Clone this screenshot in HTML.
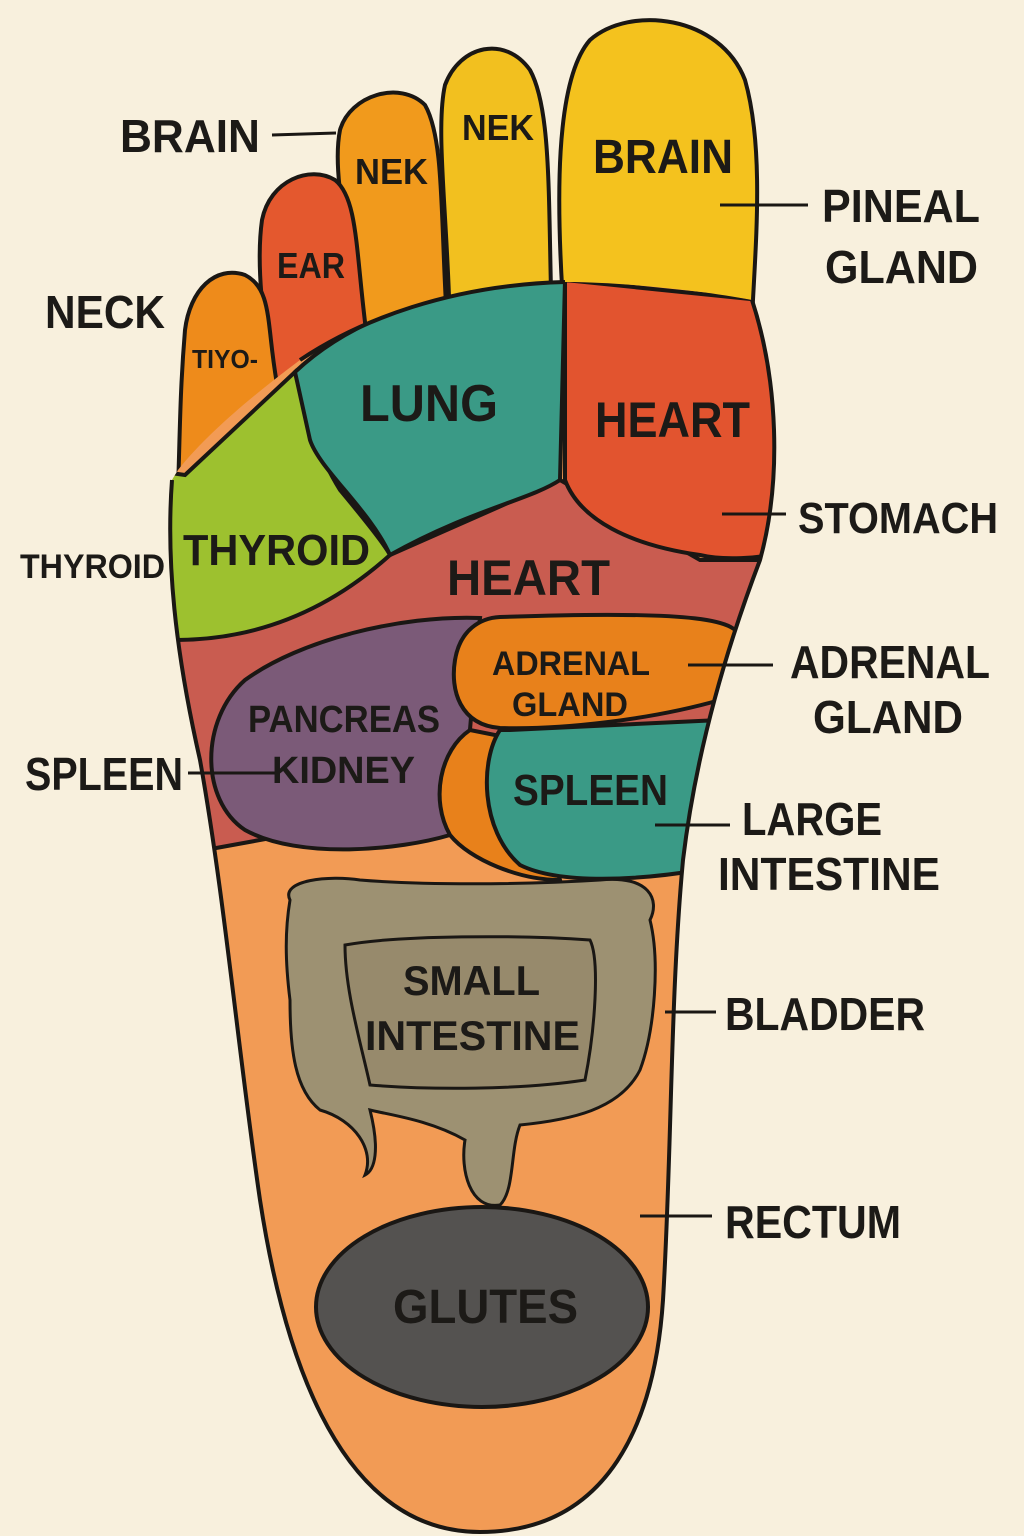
<!DOCTYPE html>
<html><head><meta charset="utf-8"><style>
html,body{margin:0;padding:0;background:#f8f0dd}
svg{display:block}
text{font-family:"Liberation Sans",sans-serif;font-weight:bold;fill:#1c1a17}
</style></head><body>
<svg width="1024" height="1536" viewBox="0 0 1024 1536" xmlns="http://www.w3.org/2000/svg">
<defs>
<clipPath id="foot"><path d="M172,480 C166,560 175,650 200,760 C225,900 238,1050 260,1200 C280,1330 330,1532 480,1532 C610,1532 655,1420 663,1300 C672,1150 670,1000 683,860 C695,760 722,660 760,560 C782,480 778,380 752,300 C700,290 620,282 565,282 C450,285 360,320 300,360 C260,390 210,430 178,470 Z"/></clipPath>
</defs>
<rect width="1024" height="1536" fill="#f8f0dd"/>
<g stroke="#1a1714" stroke-width="4">
<path d="M565,330 C555,200 555,80 590,40 C630,5 720,15 745,80 C765,150 755,250 752,320 Z" fill="#f4c21e"/>
<path d="M552,330 C548,200 552,110 530,70 C505,35 460,45 445,85 C435,130 448,220 450,330 Z" fill="#f2c01f"/>
<path d="M448,340 C440,220 445,140 425,105 C400,80 350,95 340,130 C330,180 355,260 365,350 Z" fill="#f19a1c"/>
<path d="M370,360 C355,260 360,200 335,180 C310,165 270,180 262,220 C255,270 265,330 275,400 Z" fill="#e4582e"/>
<path d="M280,400 C265,330 275,290 245,275 C215,265 190,290 185,330 C180,390 180,430 178,490 L230,440 Z" fill="#ee8b1b"/>
</g>
<g clip-path="url(#foot)" stroke="#1a1714" stroke-width="4">
<rect x="150" y="270" width="650" height="1280" fill="#f29b55" stroke="none"/>
<path d="M150,640 L390,555 L560,480 L700,560 L780,560 L780,780 L700,790 L480,800 L150,860 Z" fill="#c95c50"/>
<path d="M150,470 L185,475 L295,372 C305,410 315,450 340,490 C365,520 385,545 390,555 C340,600 270,640 175,640 L150,640 Z" fill="#9dc12f"/>
<path d="M295,372 C350,320 440,285 565,280 L560,480 C530,500 470,510 390,555 C370,510 320,470 310,440 Z" fill="#3a9a86"/>
<path d="M565,280 L760,300 L790,300 L790,550 C760,560 720,560 700,555 C630,545 580,520 565,480 Z" fill="#e2542f"/>
<path d="M480,618 C400,615 300,640 245,680 C200,720 200,800 245,830 C300,860 400,850 450,835 C470,800 470,700 480,618 Z" fill="#7b5a78"/>
<path d="M470,730 C440,750 430,800 450,835 C470,860 520,880 560,880 L520,740 Z" fill="#e8811b"/>
<path d="M500,730 C480,760 480,830 520,865 C560,885 640,880 700,870 L720,720 L510,730 Z" fill="#3a9a86"/>
<path d="M500,617 C700,610 740,620 740,640 L720,700 C650,720 560,730 500,728 C460,725 450,690 455,660 C460,630 480,618 500,617 Z" fill="#e8811b"/>
<path d="M290,900 C280,880 330,875 360,880 C420,885 520,885 600,880 C650,875 660,900 650,920 C660,960 655,1030 640,1070 C620,1110 570,1120 520,1125 C510,1150 515,1190 500,1205 C470,1210 460,1170 465,1140 C430,1120 390,1115 370,1110 C380,1150 375,1170 365,1175 C375,1150 355,1120 320,1110 C295,1090 290,1050 290,1000 C285,960 285,930 290,900 Z" fill="#9d9172" stroke-width="3"/>
<path d="M345,945 C400,935 520,935 590,940 C600,960 595,1030 585,1080 C520,1090 430,1090 370,1085 C360,1040 345,990 345,945 Z" fill="#978a6c" stroke-width="3"/>
<ellipse cx="482" cy="1307" rx="166" ry="100" fill="#545250"/>
</g>
<path d="M172,480 C166,560 175,650 200,760 C225,900 238,1050 260,1200 C280,1330 330,1532 480,1532 C610,1532 655,1420 663,1300 C672,1150 670,1000 683,860 C695,760 722,660 760,560 C782,480 778,380 752,300" fill="none" stroke="#1a1714" stroke-width="4"/>
<path d="M565,282 C450,285 360,320 300,360" fill="none" stroke="#1a1714" stroke-width="4"/>
<g stroke="#1a1714" stroke-width="3">
<line x1="272" y1="135" x2="336" y2="133"/>
<line x1="720" y1="205" x2="808" y2="205"/>
<line x1="722" y1="514" x2="786" y2="514"/>
<line x1="688" y1="665" x2="773" y2="665"/>
<line x1="655" y1="825" x2="730" y2="825"/>
<line x1="665" y1="1012" x2="716" y2="1012"/>
<line x1="640" y1="1216" x2="712" y2="1216"/>
<line x1="188" y1="773" x2="280" y2="773"/>
</g>
<text x="120" y="152" font-size="46" textLength="140" lengthAdjust="spacingAndGlyphs">BRAIN</text>
<text x="45" y="328" font-size="46" textLength="120" lengthAdjust="spacingAndGlyphs">NECK</text>
<text x="20" y="578" font-size="34" textLength="145" lengthAdjust="spacingAndGlyphs">THYROID</text>
<text x="25" y="790" font-size="46" textLength="158" lengthAdjust="spacingAndGlyphs">SPLEEN</text>
<text x="822" y="222" font-size="46" textLength="158" lengthAdjust="spacingAndGlyphs">PINEAL</text>
<text x="825" y="283" font-size="46" textLength="153" lengthAdjust="spacingAndGlyphs">GLAND</text>
<text x="798" y="533" font-size="44" textLength="200" lengthAdjust="spacingAndGlyphs">STOMACH</text>
<text x="790" y="678" font-size="46" textLength="200" lengthAdjust="spacingAndGlyphs">ADRENAL</text>
<text x="813" y="733" font-size="46" textLength="150" lengthAdjust="spacingAndGlyphs">GLAND</text>
<text x="742" y="835" font-size="46" textLength="140" lengthAdjust="spacingAndGlyphs">LARGE</text>
<text x="718" y="890" font-size="46" textLength="222" lengthAdjust="spacingAndGlyphs">INTESTINE</text>
<text x="725" y="1030" font-size="46" textLength="200" lengthAdjust="spacingAndGlyphs">BLADDER</text>
<text x="725" y="1238" font-size="46" textLength="176" lengthAdjust="spacingAndGlyphs">RECTUM</text>
<text x="593" y="173" font-size="48" textLength="140" lengthAdjust="spacingAndGlyphs">BRAIN</text>
<text x="462" y="140" font-size="36" textLength="72" lengthAdjust="spacingAndGlyphs">NEK</text>
<text x="355" y="184" font-size="36" textLength="73" lengthAdjust="spacingAndGlyphs">NEK</text>
<text x="277" y="278" font-size="36" textLength="68" lengthAdjust="spacingAndGlyphs">EAR</text>
<text x="192" y="368" font-size="26" textLength="66" lengthAdjust="spacingAndGlyphs">TIYO-</text>
<text x="360" y="421" font-size="52" textLength="138" lengthAdjust="spacingAndGlyphs">LUNG</text>
<text x="595" y="437" font-size="50" textLength="155" lengthAdjust="spacingAndGlyphs">HEART</text>
<text x="183" y="565" font-size="44" textLength="187" lengthAdjust="spacingAndGlyphs">THYROID</text>
<text x="447" y="595" font-size="50" textLength="163" lengthAdjust="spacingAndGlyphs">HEART</text>
<text x="492" y="675" font-size="34" textLength="158" lengthAdjust="spacingAndGlyphs">ADRENAL</text>
<text x="512" y="716" font-size="34" textLength="116" lengthAdjust="spacingAndGlyphs">GLAND</text>
<text x="248" y="732" font-size="38" textLength="192" lengthAdjust="spacingAndGlyphs">PANCREAS</text>
<text x="272" y="783" font-size="38" textLength="143" lengthAdjust="spacingAndGlyphs">KIDNEY</text>
<text x="513" y="805" font-size="44" textLength="155" lengthAdjust="spacingAndGlyphs">SPLEEN</text>
<text x="403" y="995" font-size="42" textLength="137" lengthAdjust="spacingAndGlyphs">SMALL</text>
<text x="365" y="1050" font-size="42" textLength="215" lengthAdjust="spacingAndGlyphs">INTESTINE</text>
<text x="393" y="1323" font-size="48" textLength="185" lengthAdjust="spacingAndGlyphs">GLUTES</text>
</svg>
</body></html>
